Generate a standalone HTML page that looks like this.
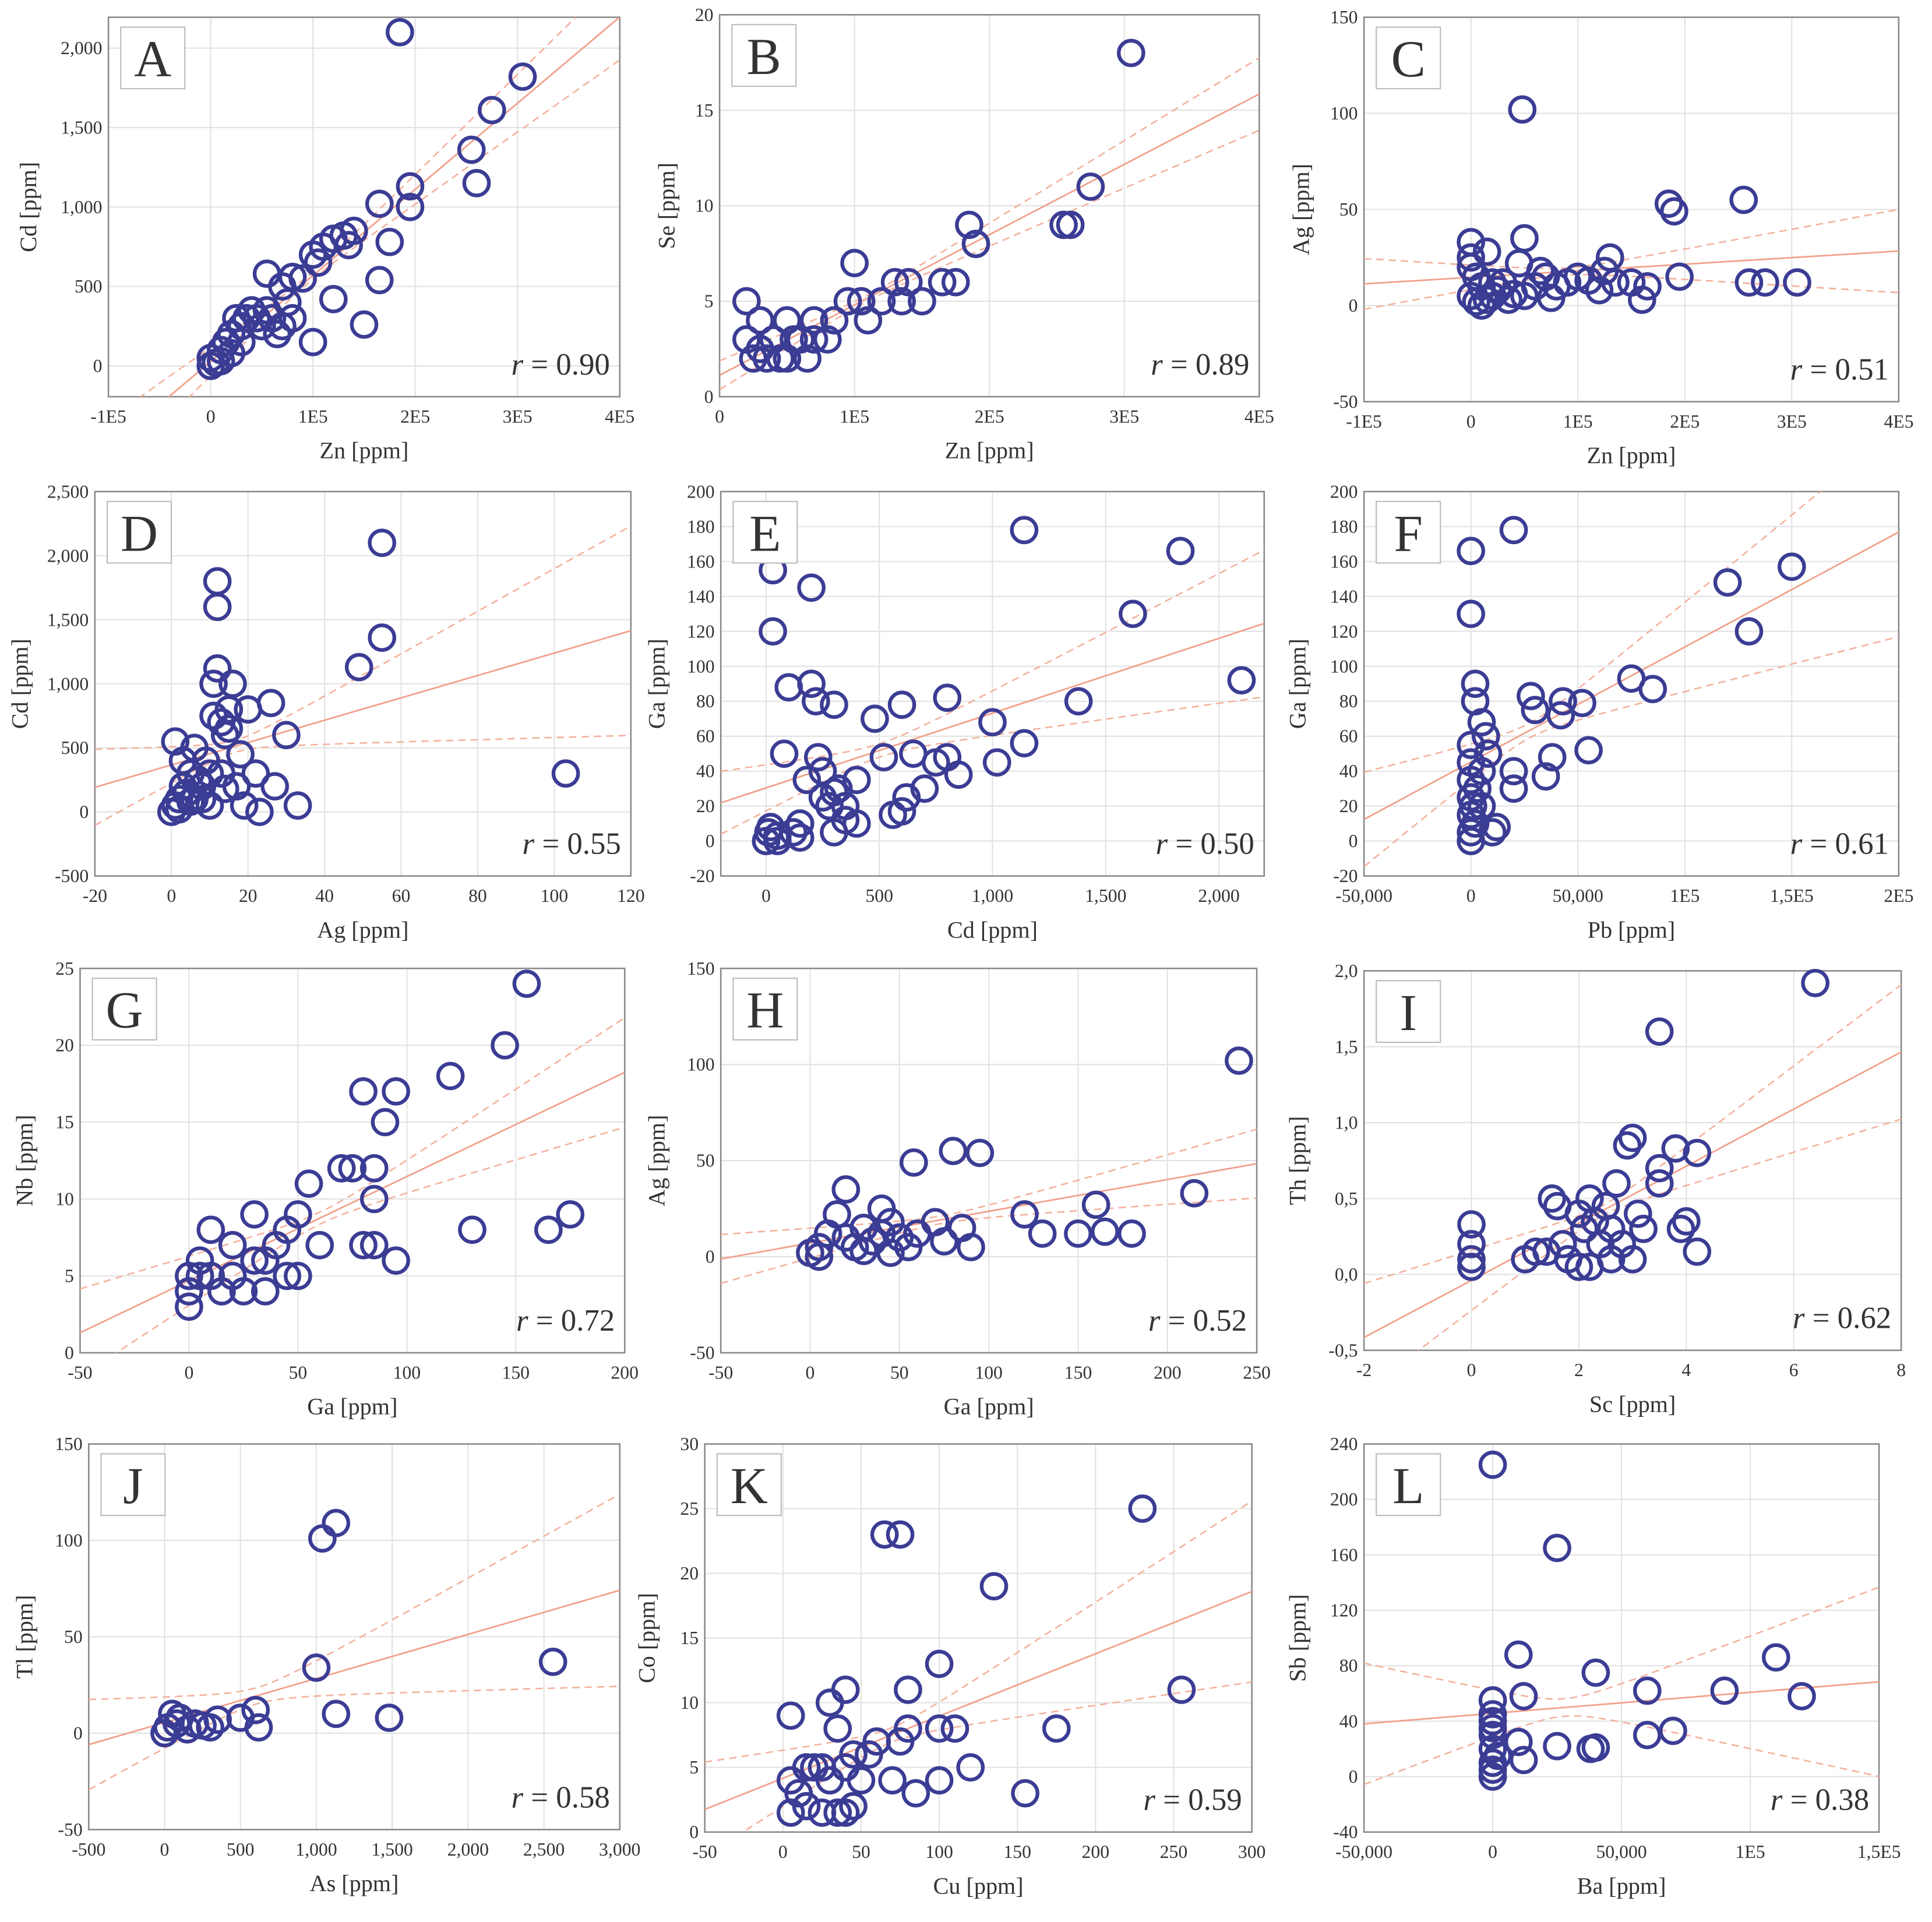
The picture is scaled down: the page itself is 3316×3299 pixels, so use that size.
<!DOCTYPE html>
<html><head><meta charset="utf-8">
<style>
html,body{margin:0;padding:0;background:#fff;}
svg{display:block;}
text{font-family:"Liberation Serif",serif;fill:#333;}
</style></head>
<body>
<svg id="chart" width="3316" height="3299" viewBox="0 0 1568 1560" preserveAspectRatio="none" xmlns="http://www.w3.org/2000/svg"></svg>
<script>
// ---- data ----
const aX=[0,0,0.05,0.1,0.15,0.2,0.2,0.3,0.3,0.35,0.4,0.45,0.5,0.55,0.6,0.65,0.7,0.75,0.8,0.55,0.7,0.8,0.9,1.0,1.05,1.1,1.2,1.3,1.35,1.4,1.0,1.2,1.5,1.65,1.65,1.75,1.95,1.95,1.85,2.55,2.6,2.75,3.05,0.25,0.1];
const aY=[0,50,20,100,150,200,80,250,150,300,350,300,250,350,300,200,250,400,300,580,500,560,550,700,650,750,800,820,760,850,150,420,260,540,1020,780,1000,1130,2100,1360,1150,1610,1820,300,30];
const bX=[0.2,0.2,0.25,0.3,0.35,0.4,0.45,0.5,0.5,0.55,0.6,0.65,0.7,0.7,0.8,0.85,0.95,1.0,1.05,1.1,1.2,1.3,1.35,1.4,1.5,1.65,1.75,1.85,1.9,1.9,2.55,2.6,2.75,3.05,0.3];
const bY=[5,3,2,4,2,3,2,4,2,3,3,2,3,4,3,4,5,7,5,4,5,6,5,6,5,6,6,9,8,8,9,9,11,18,2.5];
const cX=[0,0,0,0.05,0.1,0,0.05,0.1,0.15,0.2,0.25,0.3,0.35,0.4,0.45,0.5,0.48,0.5,0.6,0.65,0.7,0.8,0.9,1.0,1.1,1.2,1.3,1.35,1.5,1.6,1.65,1.85,1.9,1.95,2.55,2.6,2.75,3.05,0.15,0.2,1.25,0.75];
const cY=[33,25,20,15,10,5,2,0,3,5,8,12,3,6,22,35,102,5,10,18,15,10,12,15,13,8,25,12,12,3,10,53,49,15,55,12,12,12,28,12,18,4];
const dX=[0,1,2,3,1,4,5,6,7,8,9,10,11,11,12,12,12,13,14,15,15,16,17,18,19,20,22,23,26,27,30,33,49,55,55,103,5,8,13,3,2,6,10,14];
const dY=[0,50,100,200,550,150,300,500,250,100,400,300,750,1000,1800,1600,1120,700,600,800,650,1000,200,450,50,800,300,0,850,200,600,50,1130,2100,1360,300,80,200,300,400,20,100,50,180];
const eX=[0,10,20,30,30,50,80,100,120,150,180,200,200,220,230,250,280,300,300,320,350,400,480,520,560,600,620,650,700,750,800,800,850,1000,1020,1140,1140,1380,1620,1830,2100,400,600,150,250,350,50,300];
const eY=[0,5,8,155,120,3,50,88,5,10,35,90,145,80,48,40,20,78,5,30,20,35,70,48,15,78,25,50,30,45,48,82,38,68,45,178,56,80,130,166,92,10,17,2,25,12,0,28];
const fX=[0,0,2,2,5,0,0,0,0,0,0,0,2,5,5,8,10,12,20,20,20,28,30,35,38,42,43,55,52,75,85,120,130,150,3,7,1];
const fY=[166,130,90,80,68,55,45,35,25,15,5,0,10,20,40,50,5,8,178,30,40,83,75,37,48,72,80,52,79,93,87,148,120,157,30,60,20];
const gX=[0,0,0,5,10,10,15,20,25,30,30,35,40,45,50,50,55,60,70,75,80,80,85,85,85,90,95,95,120,130,145,155,165,175,20,5,45,35];
const gY=[3,4,5,6,8,5,4,7,4,9,6,4,7,5,9,5,11,7,12,12,17,7,12,7,10,15,17,6,18,8,20,24,8,9,5,5,8,6];
const hX=[0,5,10,15,20,20,25,30,35,40,40,45,50,55,58,70,75,80,85,90,95,120,130,150,160,165,180,215,240,5,30,60,45];
const hY=[2,5,12,22,35,10,5,15,8,25,12,18,10,5,49,18,8,55,15,5,54,22,12,12,27,13,12,33,102,0,3,12,2];
const iX=[0,0,0,0,1,1.2,1.5,1.6,1.7,1.8,2,2,2.1,2.2,2.3,2.4,2.5,2.6,2.7,2.8,2.9,3,3,3.1,3.2,3.5,3.5,3.5,3.8,3.9,4,4.2,4.2,6.4,2.2,2.6,1.4];
const iY=[0.33,0.2,0.1,0.05,0.1,0.15,0.5,0.45,0.2,0.1,0.4,0.05,0.3,0.5,0.35,0.2,0.45,0.3,0.6,0.2,0.85,0.9,0.1,0.4,0.3,1.6,0.7,0.6,0.83,0.3,0.35,0.8,0.15,1.92,0.05,0.1,0.15];
const jX=[0,20,50,80,100,150,200,300,350,500,600,620,1000,1040,1130,1130,1480,2560,250];
const jY=[0,3,10,5,8,2,5,3,7,8,12,3,34,101,109,10,8,37,4];
const kX=[5,5,5,10,15,20,25,30,30,35,35,40,40,45,50,55,60,65,70,75,75,80,80,100,100,100,110,120,135,155,175,230,255,40,25,45,85,15];
const kY=[9,4,1.5,3,2,5,1.5,10,4,8,1.5,11,5,2,4,6,7,23,4,23,7,11,8,13,8,4,8,5,19,3,8,25,11,1.5,5,6,3,5];
const lX=[0,0,0,0,0,0,0,0,0,0,2,10,10,12,12,25,25,38,40,40,60,60,70,90,110,120];
const lY=[225,55,45,40,35,30,20,10,5,0,15,88,25,58,12,165,22,20,75,21,62,30,33,62,86,58];
// ---- tick labels ----
const znTicks=["-1E5","0","1E5","2E5","3E5","4E5"];
const zn0Ticks=["0","1E5","2E5","3E5","4E5"];
const cdTicksA=["0","500","1,000","1,500","2,000"];
const cdTicksD=["-500","0","500","1,000","1,500","2,000","2,500"];
const cdTicksE=["0","500","1,000","1,500","2,000"];
const pbTicks=["-50,000","0","50,000","1E5","1,5E5","2E5"];
const thTicks=["-0,5","0,0","0,5","1,0","1,5","2,0"];
const asTicks=["-500","0","500","1,000","1,500","2,000","2,500","3,000"];
const baTicks=["-50,000","0","50,000","1E5","1,5E5"];
const rVals=["0.90","0.89","0.51","0.55","0.50","0.61","0.72","0.52","0.62","0.58","0.59","0.38"];

function seq(a,b,s){const r=[];for(let v=a;v<=b+1e-9;v+=s)r.push(+v.toFixed(6));return r;}
const panels=[
 {id:'A',x:aX,y:aY,bx:[88,503],by:[14,322],xd:[-1,4],yd:[-194,2194],xt:seq(-1,4,1),xl:znTicks,yt:seq(0,2000,500),yl:cdTicksA,xn:'Zn [ppm]',yn:'Cd [ppm]',ytx:25},
 {id:'B',x:bX,y:bY,bx:[584,1022],by:[12,322],xd:[0,4],yd:[0,20],xt:seq(0,4,1),xl:zn0Ticks,yt:seq(0,20,5),xn:'Zn [ppm]',yn:'Se [ppm]',ytx:543},
 {id:'C',x:cX,y:cY,bx:[1107,1541],by:[14,326],xd:[-1,4],yd:[-50,150],xt:seq(-1,4,1),xl:znTicks,yt:seq(-50,150,50),xn:'Zn [ppm]',yn:'Ag [ppm]',ytx:1058},
 {id:'D',x:dX,y:dY,bx:[77,512],by:[399,711],xd:[-20,120],yd:[-500,2500],xt:seq(-20,120,20),yt:seq(-500,2500,500),yl:cdTicksD,xn:'Ag  [ppm]',yn:'Cd [ppm]',ytx:18},
 {id:'E',x:eX,y:eY,bx:[585,1026],by:[399,711],xd:[-200,2200],yd:[-20,200],xt:seq(0,2000,500),xl:cdTicksE,yt:seq(-20,200,20),xn:'Cd [ppm]',yn:'Ga [ppm]',ytx:535},
 {id:'F',x:fX,y:fY,bx:[1107,1541],by:[399,711],xd:[-50,200],yd:[-20,200],xt:seq(-50,200,50),xl:pbTicks,yt:seq(-20,200,20),xn:'Pb [ppm]',yn:'Ga [ppm]',ytx:1055},
 {id:'G',x:gX,y:gY,bx:[65,507],by:[786,1098],xd:[-50,200],yd:[0,25],xt:seq(-50,200,50),yt:seq(0,25,5),xn:'Ga [ppm]',yn:'Nb [ppm]',ytx:22},
 {id:'H',x:hX,y:hY,bx:[585,1020],by:[786,1098],xd:[-50,250],yd:[-50,150],xt:seq(-50,250,50),yt:seq(-50,150,50),xn:'Ga [ppm]',yn:'Ag [ppm]',ytx:535},
 {id:'I',x:iX,y:iY,bx:[1107,1543],by:[788,1096],xd:[-2,8],yd:[-0.5,2],xt:seq(-2,8,2),yt:seq(-0.5,2,0.5),yl:thTicks,xn:'Sc [ppm]',yn:'Th [ppm]',ytx:1055},
 {id:'J',x:jX,y:jY,bx:[72,503],by:[1172,1485],xd:[-500,3000],yd:[-50,150],xt:seq(-500,3000,500),xl:asTicks,yt:seq(-50,150,50),xn:'As [ppm]',yn:'Tl [ppm]',ytx:22},
 {id:'K',x:kX,y:kY,bx:[572,1016],by:[1172,1487],xd:[-50,300],yd:[0,30],xt:seq(-50,300,50),yt:seq(0,30,5),xn:'Cu [ppm]',yn:'Co [ppm]',ytx:527},
 {id:'L',x:lX,y:lY,bx:[1107,1525],by:[1172,1487],xd:[-50,150],yd:[-40,240],xt:seq(-50,150,50),xl:baTicks,yt:seq(-40,240,40),xn:'Ba [ppm]',yn:'Sb [ppm]',ytx:1055},
];
const NS='http://www.w3.org/2000/svg';
const svg=document.getElementById('chart');
function mk(tag,attrs,parent){const e=document.createElementNS(NS,tag);for(const k in attrs)e.setAttribute(k,attrs[k]);(parent||svg).appendChild(e);return e;}
const defs=mk('defs',{});
panels.forEach((p,pi)=>{
 const g=mk('g',{});
 
 
 const sx=v=>p.bx[0]+(v-p.xd[0])/(p.xd[1]-p.xd[0])*(p.bx[1]-p.bx[0]);
 const sy=v=>p.by[1]-(v-p.yd[0])/(p.yd[1]-p.yd[0])*(p.by[1]-p.by[0]);
 const cp=mk('clipPath',{id:'clip'+p.id},defs);
 mk('rect',{x:p.bx[0],y:p.by[0],width:p.bx[1]-p.bx[0],height:p.by[1]-p.by[0]},cp);
 p.xt.forEach(v=>{const l=mk('line',{x1:sx(v),x2:sx(v),y1:p.by[0],y2:p.by[1],stroke:'#e2e2e2','stroke-width':1},g);
  });
 p.yt.forEach(v=>{const l=mk('line',{x1:p.bx[0],x2:p.bx[1],y1:sy(v),y2:sy(v),stroke:'#e2e2e2','stroke-width':1},g);
  });
 const fr=mk('rect',{x:p.bx[0],y:p.by[0],width:p.bx[1]-p.bx[0],height:p.by[1]-p.by[0],fill:'none',stroke:'#888','stroke-width':1.2},g);
 
 p.xt.forEach((v,i)=>{const t=mk('text',{x:sx(v),y:p.by[1]+21,'text-anchor':'middle','font-size':15},g);
  t.textContent=p.xl?p.xl[i]:String(v);});
 p.yt.forEach((v,i)=>{const t=mk('text',{x:p.bx[0]-5,y:sy(v)+5,'text-anchor':'end','font-size':15},g);
  t.textContent=p.yl?p.yl[i]:String(v);});
 const xtl=mk('text',{x:(p.bx[0]+p.bx[1])/2,y:p.by[1]+50,'text-anchor':'middle','font-size':19},g);
 xtl.textContent=p.xn;
 const yc=(p.by[0]+p.by[1])/2;
 const ytl=mk('text',{x:p.ytx,y:yc,'text-anchor':'middle','font-size':19,transform:`rotate(-90 ${p.ytx} ${yc})`,'dominant-baseline':'middle'},g);
 ytl.textContent=p.yn;
 const n=p.x.length;let mx=0,my=0;for(let i=0;i<n;i++){mx+=p.x[i];my+=p.y[i];}mx/=n;my/=n;
 let sxx=0,sxy=0;for(let i=0;i<n;i++){sxx+=(p.x[i]-mx)**2;sxy+=(p.x[i]-mx)*(p.y[i]-my);}
 const b=sxy/sxx,a=my-b*mx;let sse=0;for(let i=0;i<n;i++)sse+=(p.y[i]-a-b*p.x[i])**2;
 const s=Math.sqrt(sse/(n-2));
 const cg=mk('g',{'clip-path':`url(#clip${p.id})`},g);
 const fit=mk('line',{x1:sx(p.xd[0]),y1:sy(a+b*p.xd[0]),x2:sx(p.xd[1]),y2:sy(a+b*p.xd[1]),stroke:'#f2a08a','stroke-width':1.3},cg);
 
 [1,-1].forEach(sg=>{let d='';for(let k=0;k<=60;k++){const xv=p.xd[0]+(p.xd[1]-p.xd[0])*k/60;
   const yv=a+b*xv+sg*2*s*Math.sqrt(0.1/n+(xv-mx)**2/sxx);d+=(k?'L':'M')+sx(xv).toFixed(1)+','+sy(yv).toFixed(1);}
  const pb=mk('path',{d:d,fill:'none',stroke:'#f4b09c','stroke-width':1.2,'stroke-dasharray':'6,4'},cg);
  });
 for(let i=0;i<n;i++){const c=mk('circle',{cx:sx(p.x[i]),cy:sy(p.y[i]),r:10,fill:'none',stroke:'#3b3c94','stroke-width':3},g);
  }
 const lb=mk('rect',{x:p.bx[0]+10,y:p.by[0]+8,width:52,height:50,fill:'#fff',stroke:'#bbb','stroke-width':1},g);
 
 const lt=mk('text',{x:p.bx[0]+36,y:p.by[0]+48,'text-anchor':'middle','font-size':42,fill:'#222'},g);
 lt.textContent=p.id;
 const rt=mk('text',{x:p.bx[1]-8,y:p.by[1]-18,'text-anchor':'end','font-size':25,fill:'#222'},g);
 rt.innerHTML='<tspan font-style="italic">r</tspan> = '+rVals[pi];
 
});
</script>
</body></html>
